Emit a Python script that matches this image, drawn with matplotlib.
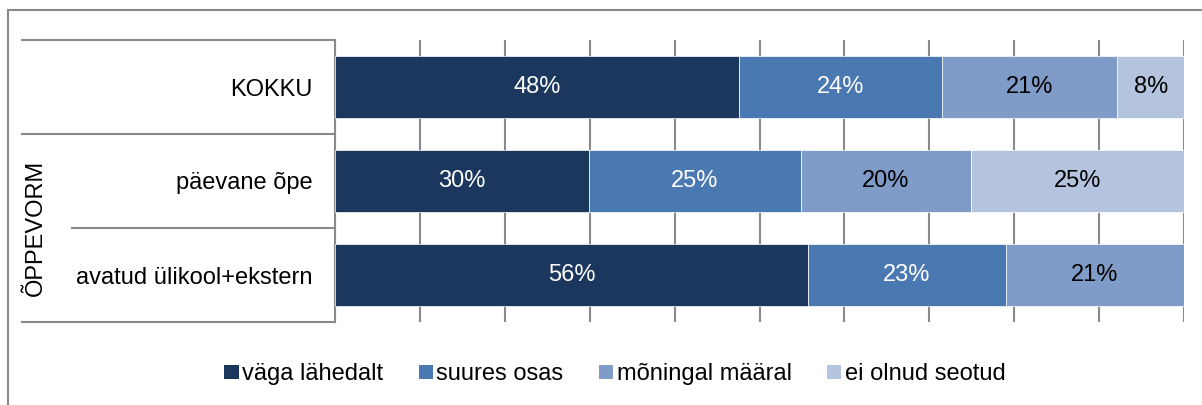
import matplotlib
matplotlib.use("Agg")
import matplotlib.pyplot as plt
import matplotlib.transforms as mtransforms
from matplotlib.lines import Line2D
from matplotlib.patches import Patch

plt.rcParams['font.family'] = ['Liberation Sans', 'DejaVu Sans']

# data (shares in %)
categories = ['KOKKU', 'päevane õpe', 'avatud ülikool+ekstern']
series_names = ['väga lähedalt', 'suures osas', 'mõningal määral', 'ei olnud seotud']
vaga_lahedalt = [47.6, 29.9, 55.7]
suures_osas = [23.9, 25.0, 23.3]
moningal_maaral = [20.6, 20.0, 21.0]
ei_olnud_seotud = [8.0, 25.1, 0.0]
group_label = 'ÕPPEVORM'

colors = ['#1b375e', '#4a78b0', '#7f9bc7', '#b5c4de']
label_colors = ['white', 'white', 'black', 'black']
line_gray = '#8a8a8a'
W, H = 1202, 405

fig = plt.figure(figsize=(W / 100, H / 100), dpi=100)
ax = fig.add_axes([335 / W, 1 - 322 / H, (1184 - 335) / W, (322 - 40) / H])

series = [vaga_lahedalt, suures_osas, moningal_maaral, ei_olnud_seotud]
ypos = list(range(len(categories)))
left = [0.0] * len(categories)
for vals, col, lcol in zip(series, colors, label_colors):
    bars = ax.barh(ypos, vals, left=left, height=0.66, color=col,
                   edgecolor='white', linewidth=0.5, zorder=3)
    for b, v in zip(bars, vals):
        if v > 0:
            ax.text(b.get_x() + b.get_width() / 2, b.get_y() + b.get_height() / 2,
                    f'{v:.0f}%', ha='center', va='center', color=lcol,
                    fontsize=17, zorder=4)
    left = [l + v for l, v in zip(left, vals)]

ax.set_xlim(0, 100)
ax.set_ylim(len(categories) - 0.5, -0.5)
ax.set_xticks(range(0, 101, 10))
ax.tick_params(axis='x', length=0, labelbottom=False)
ax.grid(axis='x', color=line_gray, linewidth=1.5, zorder=0)
ax.set_yticks(ypos)
ax.set_yticklabels(categories, fontsize=17)
ax.tick_params(axis='y', length=0, pad=16)
for s in ['top', 'right', 'bottom']:
    ax.spines[s].set_visible(False)
ax.spines['left'].set_color(line_gray)
ax.spines['left'].set_linewidth(1.5)

# table lines on the left of the plot
tr = mtransforms.blended_transform_factory(fig.transFigure, ax.transData)
x_end = 334 / W
for yb, x0 in [(-0.5, 22), (0.5, 22), (1.5, 72), (2.5, 22)]:
    fig.add_artist(Line2D([x0 / W, x_end], [yb, yb], transform=tr,
                          color=line_gray, linewidth=1.5, clip_on=False))
fig.text(36 / W, 1.5, group_label, rotation=90, ha='center', va='center',
         fontsize=17, transform=tr)

# outer frame (left and top edges visible)
fig.add_artist(Line2D([8 / W, 8 / W], [0, 1 - 10 / H], transform=fig.transFigure,
                      color=line_gray, linewidth=1.5))
fig.add_artist(Line2D([8 / W, 1], [1 - 10 / H, 1 - 10 / H], transform=fig.transFigure,
                      color=line_gray, linewidth=1.5))

handles = [Patch(facecolor=c, edgecolor='none') for c in colors]
fig.legend(handles, series_names, loc='center', bbox_to_anchor=(615 / W, 1 - 374 / H),
           ncol=4, frameon=False, fontsize=17, handlelength=0.6, handleheight=0.55,
           handletextpad=0.15, columnspacing=1.5, borderaxespad=0)

fig.savefig('out.png', dpi=100)
